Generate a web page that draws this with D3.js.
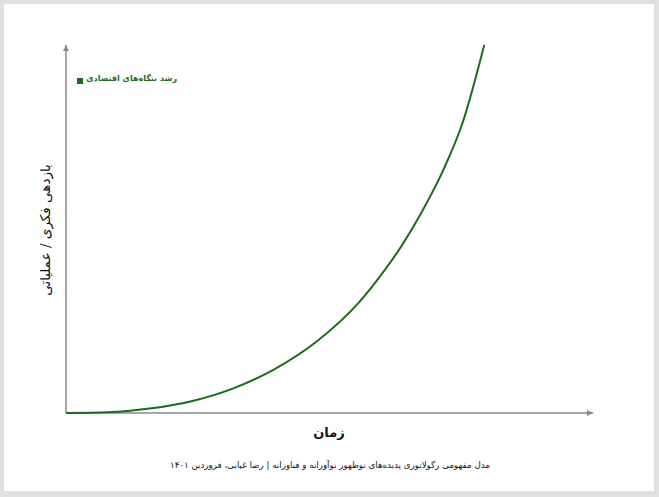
<!DOCTYPE html>
<meta charset="utf-8">
<div id="chart"></div>
<style>
body { margin: 0; font-family: 'DejaVu Sans', sans-serif; }
svg { display: block; }
</style>
<script src="https://d3js.org/d3.v7.min.js"></script>
<script>
// time (arbitrary units) and productivity values
var timeValues = [0, 1, 2, 3, 4, 5, 6, 7, 7.5, 8, 8.5, 9, 9.5, 10];
var growthValues = [0, 0.2, 1.2, 3.2, 6.7, 12, 19.5, 30, 37, 45, 54.5, 65.5, 79.5, 100];
var seriesName = 'رشد بنگاه‌های اقتصادی';
var xTitle = 'زمان';
var yTitle = 'بازدهی فکری / عملیاتی';
var caption = 'مدل مفهومی رگولاتوری پدیده‌های نوظهور نوآورانه و فناورانه | رضا غیابی، فروردین ۱۴۰۱';

var w = 659, h = 497;
var green = '#1b6b1b', axisColor = '#8a8a8a';

var svg = d3.select('#chart').append('svg')
    .attr('width', w)
    .attr('height', h);

// frame
svg.append('rect').attr('width', w).attr('height', h).attr('fill', '#e0e0e0');
svg.append('rect').attr('x', 4).attr('y', 4).attr('width', 650).attr('height', 487).attr('fill', '#fff');

var x = d3.scaleLinear().domain([0, 12.6]).range([66, 593]);
var y = d3.scaleLinear().domain([0, 100]).range([413, 45]);

var data = timeValues.map(function(t, i) { return { t: t, v: growthValues[i] }; });

// arrow marker
svg.append('defs').append('marker')
    .attr('id', 'arrow')
    .attr('viewBox', '0 0 10 10')
    .attr('refX', 10).attr('refY', 5)
    .attr('markerWidth', 6).attr('markerHeight', 6)
    .attr('markerUnits', 'userSpaceOnUse')
    .attr('orient', 'auto')
  .append('path')
    .attr('d', 'M0,0L10,5L0,10Z')
    .attr('fill', axisColor);

// axes
svg.append('line')
    .attr('x1', x(0)).attr('y1', y(0))
    .attr('x2', x(12.6)).attr('y2', y(0))
    .attr('stroke', axisColor).attr('stroke-width', 1.5)
    .attr('marker-end', 'url(#arrow)');
svg.append('line')
    .attr('x1', x(0)).attr('y1', y(0))
    .attr('x2', x(0)).attr('y2', y(100))
    .attr('stroke', axisColor).attr('stroke-width', 1.5)
    .attr('marker-end', 'url(#arrow)');

var line = d3.line()
    .x(function(d) { return x(d.t); })
    .y(function(d) { return y(d.v); })
    .curve(d3.curveMonotoneX);

svg.append('path')
    .datum(data)
    .attr('d', line)
    .attr('fill', 'none')
    .attr('stroke', green)
    .attr('stroke-width', 2);

// legend
svg.append('rect')
    .attr('x', 77).attr('y', 78)
    .attr('width', 6).attr('height', 6)
    .attr('fill', green);
svg.append('text')
    .attr('x', 177).attr('y', 81)
    .attr('text-anchor', 'end')
    .style('font-size', '8px')
    .style('font-weight', 'bold')
    .style('fill', green)
    .text(seriesName);

// axis titles
svg.append('text')
    .attr('x', 329).attr('y', 437)
    .attr('text-anchor', 'middle')
    .style('font-size', '13px')
    .style('font-weight', 'bold')
    .style('fill', '#111')
    .text(xTitle);

svg.append('text')
    .attr('transform', 'translate(50,230) rotate(-90)')
    .attr('text-anchor', 'middle')
    .style('font-size', '13.5px')
    .style('fill', '#111')
    .text(yTitle);

svg.append('text')
    .attr('x', 330).attr('y', 468)
    .attr('text-anchor', 'middle')
    .style('font-size', '8.7px')
    .style('fill', '#111')
    .text(caption);
</script>
